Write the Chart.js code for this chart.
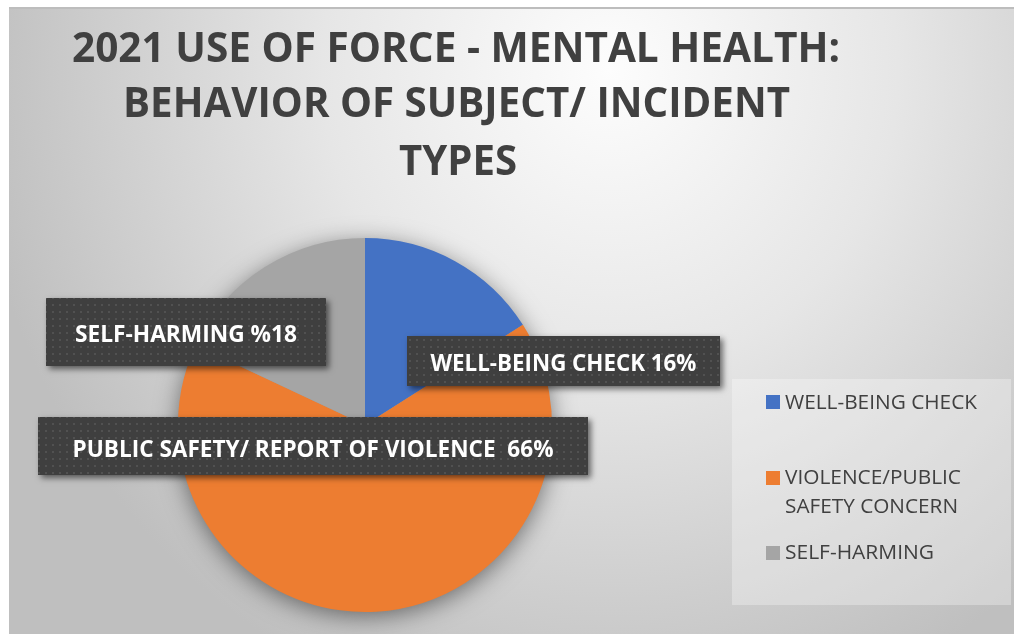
<!DOCTYPE html>
<html><head><meta charset="utf-8">
<script src="https://cdn.jsdelivr.net/npm/chart.js@4/dist/chart.umd.min.js"></script>
<style>html,body{margin:0;padding:0;background:#fff;overflow:hidden}#wrap{position:relative;width:1014px;height:634px}canvas{display:block}</style>
</head><body><div id="wrap"><canvas id="c" width="1014" height="634"></canvas></div>
<script>
// ---- data ----
const categories = ['WELL-BEING CHECK', 'VIOLENCE/PUBLIC SAFETY CONCERN', 'SELF-HARMING'];
const legendLines = [['WELL-BEING CHECK'], ['VIOLENCE/PUBLIC', 'SAFETY CONCERN'], ['SELF-HARMING']];
const values = [16, 66, 18];
const calloutLabels = ['WELL-BEING CHECK 16%', 'PUBLIC SAFETY/ REPORT OF VIOLENCE  66%', 'SELF-HARMING %18'];
const titleLines = ['2021 USE OF FORCE - MENTAL HEALTH:', 'BEHAVIOR OF SUBJECT/ INCIDENT', 'TYPES'];
const sliceColors = ['#4472C4', '#ED7D31', '#A5A5A5'];

// ---- layout (positions / sizes) ----
const FONT = 'Open Sans';
const CAP = 0.714; // cap-height ratio of Open Sans
const titleLayout = [
  {cx: 456, cy: 47, cap: 30, w: 768},
  {cx: 456.5, cy: 102, cap: 30, w: 667},
  {cx: 458, cy: 160, cap: 30, w: 118}
];
const calloutBoxes = [
  {x: 407, y: 336, w: 313, h: 50, cy: 362, tw: 266},
  {x: 38, y: 417, w: 550, h: 58, cy: 448, tw: 481},
  {x: 46, y: 298, w: 280, h: 68, cy: 333, tw: 222}
];
const legendBox = {x: 732, y: 379, w: 279, h: 226};
const legendItems = [
  {sy: 395, lines: [{cy: 402, w: 192}]},
  {sy: 471, lines: [{cy: 477, w: 176}, {cy: 506, w: 173}]},
  {sy: 546, lines: [{cy: 552, w: 149}]}
];

function fitText(ctx, text, x, cy, capH, width, weight, color, align) {
  const size = capH / CAP;
  ctx.font = weight + ' ' + size + 'px "' + FONT + '"';
  const m = ctx.measureText(text).width;
  const sx = width / m;
  ctx.save();
  ctx.fillStyle = color;
  ctx.textBaseline = 'alphabetic';
  ctx.textAlign = 'left';
  const x0 = align === 'center' ? x - width / 2 : x;
  ctx.translate(x0, cy + capH / 2);
  ctx.scale(sx, 1);
  ctx.fillText(text, 0, 0);
  ctx.restore();
}

function makePattern(ctx) {
  const p = document.createElement('canvas');
  p.width = 7; p.height = 7;
  const g = p.getContext('2d');
  g.fillStyle = '#3f3f3f'; g.fillRect(0, 0, 7, 7);
  g.fillStyle = '#515151'; g.fillRect(3, 3, 2, 2);
  return ctx.createPattern(p, 'repeat');
}

const decorPlugin = {
  id: 'decor',
  beforeDraw(chart) {
    const ctx = chart.ctx;
    ctx.save();
    ctx.fillStyle = '#ffffff';
    ctx.fillRect(0, 0, chart.width, chart.height);
    // chart background
    ctx.save();
    ctx.beginPath(); ctx.rect(9, 7, 1005, 627); ctx.clip();
    ctx.translate(610, 70);
    ctx.scale(1, 1.05);
    const g = ctx.createRadialGradient(0, 0, 0, 0, 0, 640);
    g.addColorStop(0, '#fdfdfd');
    g.addColorStop(0.45, '#e6e6e6');
    g.addColorStop(1, '#bfbfbf');
    ctx.fillStyle = g;
    ctx.fillRect(-700, -200, 1500, 900);
    ctx.restore();
    ctx.fillStyle = '#bdbdbd';
    ctx.fillRect(9, 7, 1005, 2);
    ctx.restore();
  },
  beforeDatasetsDraw(chart) {
    const arc = chart.getDatasetMeta(0).data[0];
    if (!arc) return;
    const ctx = chart.ctx;
    ctx.save();
    ctx.shadowColor = 'rgba(0,0,0,0.5)';
    ctx.shadowBlur = 24;
    ctx.shadowOffsetY = 5;
    ctx.fillStyle = '#999';
    ctx.beginPath();
    ctx.arc(arc.x, arc.y, arc.outerRadius - 1, 0, Math.PI * 2);
    ctx.fill();
    ctx.restore();
  },
  afterDatasetsDraw(chart) {
    const ctx = chart.ctx;
    const pat = makePattern(ctx);
    // callouts
    calloutLabels.forEach((t, i) => {
      const b = calloutBoxes[i];
      ctx.save();
      ctx.shadowColor = 'rgba(0,0,0,0.55)';
      ctx.shadowBlur = 6; ctx.shadowOffsetX = 3; ctx.shadowOffsetY = 3;
      ctx.fillStyle = '#3f3f3f';
      ctx.fillRect(b.x, b.y, b.w, b.h);
      ctx.restore();
      ctx.save();
      ctx.fillStyle = pat;
      ctx.fillRect(b.x, b.y, b.w, b.h);
      ctx.restore();
      fitText(ctx, t, b.x + b.w / 2, b.cy, 17, b.tw, 'bold', '#ffffff', 'center');
    });
    // title
    titleLines.forEach((t, i) => {
      const L = titleLayout[i];
      fitText(ctx, t, L.cx, L.cy, L.cap, L.w, 'bold', '#404040', 'center');
    });
    // legend
    ctx.save();
    ctx.fillStyle = 'rgba(255,255,255,0.3)';
    ctx.fillRect(legendBox.x, legendBox.y, legendBox.w, legendBox.h);
    ctx.restore();
    const colors = chart.data.datasets[0].backgroundColor;
    legendLines.forEach((lines, i) => {
      const it = legendItems[i];
      ctx.fillStyle = colors[i];
      ctx.fillRect(766, it.sy, 14, 14);
      lines.forEach((ln, j) => {
        const L = it.lines[j];
        fitText(ctx, ln, 785, L.cy, 14.2, L.w, 'normal', '#404040', 'left');
      });
    });
  }
};

new Chart(document.getElementById('c'), {
  type: 'pie',
  data: {
    labels: categories,
    datasets: [{
      data: values,
      backgroundColor: sliceColors,
      borderWidth: 0,
      hoverOffset: 0,
      offset: 0
    }]
  },
  options: {
    responsive: false,
    devicePixelRatio: 1,
    animation: false,
    events: [],
    layout: {padding: {left: 178, top: 238, right: 462, bottom: 22}},
    plugins: {legend: {display: false}, title: {display: false}, tooltip: {enabled: false}}
  },
  plugins: [decorPlugin]
});
</script>
</body></html>
